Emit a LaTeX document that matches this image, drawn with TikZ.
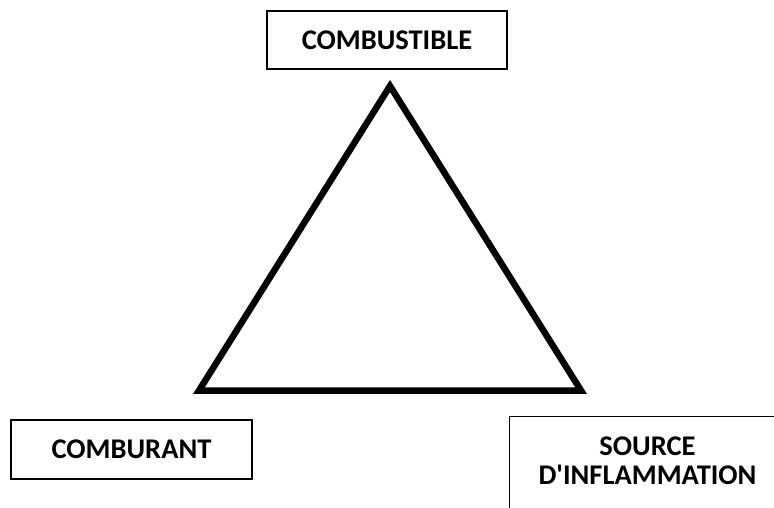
\documentclass[tikz,border=0pt]{standalone}
\usepackage{fontspec}
\setmainfont{Carlito}[Ligatures=TeXOff]
\begin{document}
\begin{tikzpicture}[x=1pt,y=-1pt,
  labelbox/.style={draw=black,line width=1.3pt,fill=white,inner sep=0pt,
    font=\fontsize{28.5}{28.5}\selectfont\bfseries,align=center},
  sidetext/.style={inner sep=0pt,font=\fontsize{28.5}{28.5}\selectfont\bfseries,align=center},
  firetri/.style={draw=black,line width=6.5pt,line join=miter}]
  \useasboundingbox (0,0) rectangle (774,508);
  \clip (0,0) rectangle (774,508);
  \fill[white] (0,0) rectangle (774,508);

  % fire triangle corners
  \coordinate (top) at (390,86);
  \coordinate (left) at (199,390.5);
  \coordinate (right) at (581,390.5);
  \draw[firetri] (top) -- (left) -- (right) -- cycle;

  % the three elements
  \node[labelbox,minimum width=240,minimum height=58] (fuel) at (387,40) {COMBUSTIBLE};
  \node[labelbox,minimum width=241,minimum height=59] (oxidizer) at (131.5,449.5) {COMBURANT};
  \node[labelbox,minimum width=280,minimum height=110,anchor=north west] (ignition) at (509,416) {};
  \node[sidetext] (ignitionlabel) at (647.5,461) {SOURCE\\D'INFLAMMATION};
\end{tikzpicture}
\end{document}
